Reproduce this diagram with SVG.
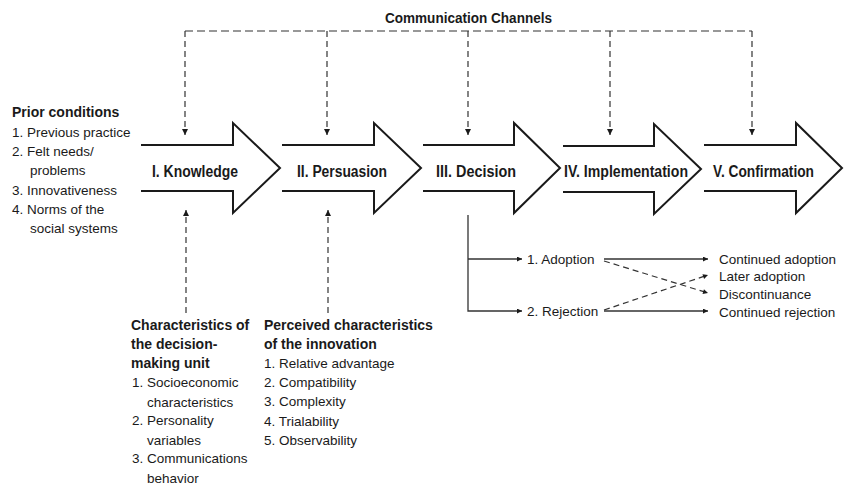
<svg xmlns="http://www.w3.org/2000/svg" width="846" height="486" viewBox="0 0 846 486">
<style>
text{font-family:"Liberation Sans",Arial,sans-serif;fill:#1a1a1a}
.b{font-weight:bold}
.t{font-size:14px}
.s{font-size:13.5px}
.L{font-size:16px;font-weight:bold}
.arrow{fill:#fff;stroke:#1a1a1a;stroke-width:2;stroke-linejoin:miter}
.dash{fill:none;stroke:#333;stroke-width:1.2;stroke-dasharray:8 4}
.vdash{fill:none;stroke:#333;stroke-width:1.2;stroke-dasharray:6 4}
.solid{fill:none;stroke:#333;stroke-width:1.3}
</style>
<defs>
<marker id="ah" viewBox="0 0 10 10" refX="10" refY="5" markerUnits="userSpaceOnUse" markerWidth="12" markerHeight="6" orient="auto"><path d="M0,0 L10,5 L0,10 z" fill="#1a1a1a"/></marker>
<marker id="sh" viewBox="0 0 10 10" refX="10" refY="5" markerUnits="userSpaceOnUse" markerWidth="10" markerHeight="5" orient="auto"><path d="M0,0 L10,5 L0,10 z" fill="#1a1a1a"/></marker>
</defs>

<text class="t b" x="385" y="23" textLength="167" lengthAdjust="spacingAndGlyphs">Communication Channels</text>

<g id="connectors">
<path class="dash" d="M185,31 H752"/>
<path class="vdash" d="M185,31 V135" marker-end="url(#ah)"/>
<path class="vdash" d="M327,31 V135" marker-end="url(#ah)"/>
<path class="vdash" d="M468,31 V135" marker-end="url(#ah)"/>
<path class="vdash" d="M610,31 V135" marker-end="url(#ah)"/>
<path class="vdash" d="M752,31 V135" marker-end="url(#ah)"/>
<path class="vdash" d="M186,313 V210" marker-end="url(#ah)"/>
<path class="vdash" d="M328,313 V210" marker-end="url(#ah)"/>
<path class="solid" d="M468,215 V311 H522" marker-end="url(#sh)"/>
<path class="solid" d="M468,259 H522" marker-end="url(#sh)"/>
<path class="solid" d="M604,259 H708" marker-end="url(#sh)"/>
<path class="solid" d="M604,311 H708" marker-end="url(#sh)"/>
<path class="vdash" d="M604,261 L708,293" marker-end="url(#sh)"/>
<path class="vdash" d="M604,310 L708,275" marker-end="url(#sh)"/>
</g>

<g id="prior">
<text class="t b" x="12" y="117">Prior conditions</text>
<text class="s" x="12" y="137">1. Previous practice</text>
<text class="s" x="12" y="156">2. Felt needs/</text>
<text class="s" x="30" y="175">problems</text>
<text class="s" x="12" y="195">3. Innovativeness</text>
<text class="s" x="12" y="214">4. Norms of the</text>
<text class="s" x="30" y="233">social systems</text>
</g>

<g id="knowledge">
<path class="arrow" d="M141,145 H233 V123 L280,168 L233,213 V191 H141"/>
<text class="L" x="152" y="177" textLength="86" lengthAdjust="spacingAndGlyphs">I. Knowledge</text>
</g>
<g id="persuasion">
<path class="arrow" d="M282,145 H374 V123 L421,168 L374,213 V191 H282"/>
<text class="L" x="297" y="177" textLength="90" lengthAdjust="spacingAndGlyphs">II. Persuasion</text>
</g>
<g id="decision">
<path class="arrow" d="M423,145 H514 V123 L560,168 L514,213 V191 H423"/>
<text class="L" x="436" y="177" textLength="80" lengthAdjust="spacingAndGlyphs">III. Decision</text>
</g>
<g id="implementation">
<path class="arrow" d="M563,146 H654 V124 L701,169 L654,214 V192 H563"/>
<text class="L" x="564" y="177" textLength="124" lengthAdjust="spacingAndGlyphs">IV. Implementation</text>
</g>
<g id="confirmation">
<path class="arrow" d="M704,145 H796 V123 L842,168 L796,213 V191 H704"/>
<text class="L" x="713" y="177" textLength="101" lengthAdjust="spacingAndGlyphs">V. Confirmation</text>
</g>

<g id="unit">
<text class="t b" x="131" y="330">Characteristics of</text>
<text class="t b" x="131" y="349">the decision-</text>
<text class="t b" x="131" y="368">making unit</text>
<text class="s" x="132" y="387">1. Socioeconomic</text>
<text class="s" x="147" y="407">characteristics</text>
<text class="s" x="132" y="425">2. Personality</text>
<text class="s" x="147" y="445">variables</text>
<text class="s" x="132" y="463">3. Communications</text>
<text class="s" x="147" y="483">behavior</text>
</g>

<g id="perceived">
<text class="t b" x="264" y="330">Perceived characteristics</text>
<text class="t b" x="264" y="349">of the innovation</text>
<text class="s" x="264" y="368">1. Relative advantage</text>
<text class="s" x="264" y="387">2. Compatibility</text>
<text class="s" x="264" y="406">3. Complexity</text>
<text class="s" x="264" y="426">4. Trialability</text>
<text class="s" x="264" y="445">5. Observability</text>
</g>

<g id="adoption">
<text class="s" x="527" y="264">1. Adoption</text>
</g>
<g id="rejection">
<text class="s" x="527" y="316">2. Rejection</text>
</g>
<g id="outcomes">
<text class="s" x="719" y="264">Continued adoption</text>
<text class="s" x="719" y="281">Later adoption</text>
<text class="s" x="719" y="299">Discontinuance</text>
<text class="s" x="719" y="317">Continued rejection</text>
</g>
</svg>
